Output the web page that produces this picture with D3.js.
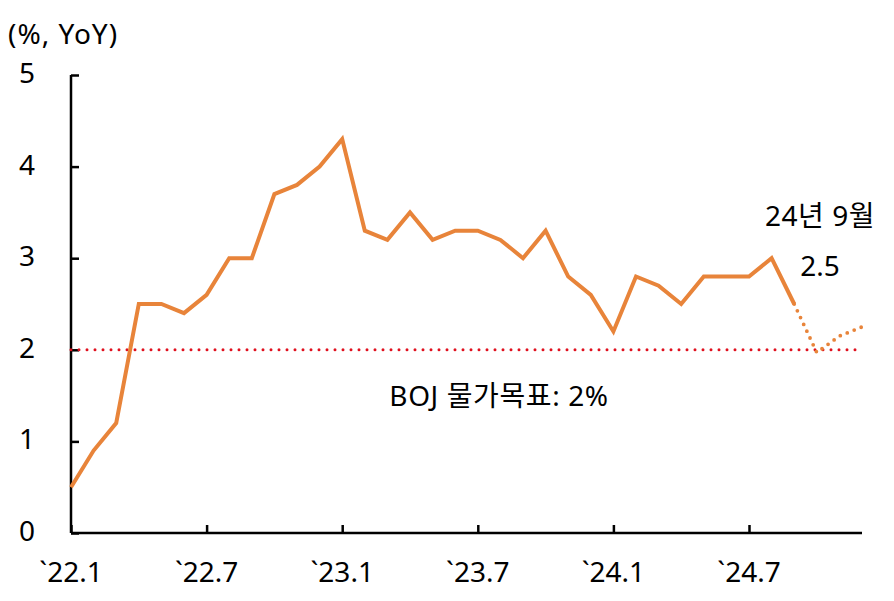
<!DOCTYPE html>
<html><head><meta charset="utf-8">
<script src="https://cdn.jsdelivr.net/npm/d3@7"></script>
<style>body{margin:0;background:#fff;} text{font-family:"Noto Sans","Noto Sans CJK KR",sans-serif;fill:#000;}</style>
</head><body>
<svg id="c" width="894" height="601"></svg>
<script>
const months = ["22.1","22.2","22.3","22.4","22.5","22.6","22.7","22.8","22.9","22.10","22.11","22.12",
"23.1","23.2","23.3","23.4","23.5","23.6","23.7","23.8","23.9","23.10","23.11","23.12",
"24.1","24.2","24.3","24.4","24.5","24.6","24.7","24.8","24.9","24.10","24.11","24.12"];
const actual = [0.5,0.9,1.2,2.5,2.5,2.4,2.6,3.0,3.0,3.7,3.8,4.0,
4.3,3.3,3.2,3.5,3.2,3.3,3.3,3.2,3.0,3.3,2.8,2.6,
2.2,2.8,2.7,2.5,2.8,2.8,2.8,3.0,2.5];
const forecastMonths = ["24.9","24.10","24.11","24.12"];
const forecast = [2.5,1.97,2.15,2.25];
const target = 2;
const yTicks = [0,1,2,3,4,5];
const xTickLabels = ["22.1","22.7","23.1","23.7","24.1","24.7"];

const svg = d3.select("#c");
const x = d3.scalePoint().domain(months).range([71,862]);
const y = d3.scaleLinear().domain([0,5]).range([533,75]);

// axes
const yAxis = svg.append("g").attr("transform","translate(71,0)")
  .call(d3.axisRight(y).tickValues(yTicks).tickSize(8).tickFormat(""));
yAxis.select(".domain").attr("stroke","#000").attr("stroke-width",2.5).attr("d","M0,533V75");
yAxis.selectAll(".tick line").attr("stroke","#000").attr("stroke-width",2.5);
svg.selectAll(".ylab").data(yTicks).join("text").attr("x",27).attr("y",d=>y(d)+8)
  .attr("text-anchor","middle").attr("font-size",28).text(d=>d);

const xAxis = svg.append("g").attr("transform","translate(0,533)")
  .call(d3.axisTop(x).tickValues(xTickLabels).tickSize(8).tickFormat(""));
xAxis.select(".domain").attr("stroke","#000").attr("stroke-width",2.5).attr("d","M71,0H862");
xAxis.selectAll(".tick line").attr("stroke","#000").attr("stroke-width",2.5);
svg.selectAll(".xlab").data(xTickLabels).join("text").attr("x",d=>x(d)).attr("y",582)
  .attr("text-anchor","middle").attr("font-size",28).text(d=>"`"+d);

// target line
svg.append("line").attr("x1",71).attr("x2",862).attr("y1",y(target)).attr("y2",y(target))
  .attr("stroke","#e0101e").attr("stroke-width",3).attr("stroke-dasharray","0 8").attr("stroke-linecap","round");

const line = d3.line().x(d=>x(d[0])).y(d=>y(d[1]));
svg.append("path").datum(forecastMonths.map((m,i)=>[m,forecast[i]])).attr("d",line)
  .attr("fill","none").attr("stroke","#e8843a").attr("stroke-width",3.8).attr("stroke-dasharray","0 7.5").attr("stroke-linecap","round");
svg.append("path").datum(actual.map((v,i)=>[months[i],v])).attr("d",line)
  .attr("fill","none").attr("stroke","#e8843a").attr("stroke-width",4).attr("stroke-linejoin","miter");

// texts
svg.append("text").attr("x",8).attr("y",44).attr("font-size",28).attr("letter-spacing",1).text("(%, YoY)");
svg.append("text").attr("x",499).attr("y",406).attr("text-anchor","middle").attr("font-size",28).attr("letter-spacing",0.6).text("BOJ 물가목표: 2%");
svg.append("text").attr("x",820).attr("y",226).attr("text-anchor","middle").attr("font-size",28).attr("letter-spacing",0.5).text("24년 9월");
svg.append("text").attr("x",820).attr("y",276).attr("text-anchor","middle").attr("font-size",28).text("2.5");
</script>
</body></html>
